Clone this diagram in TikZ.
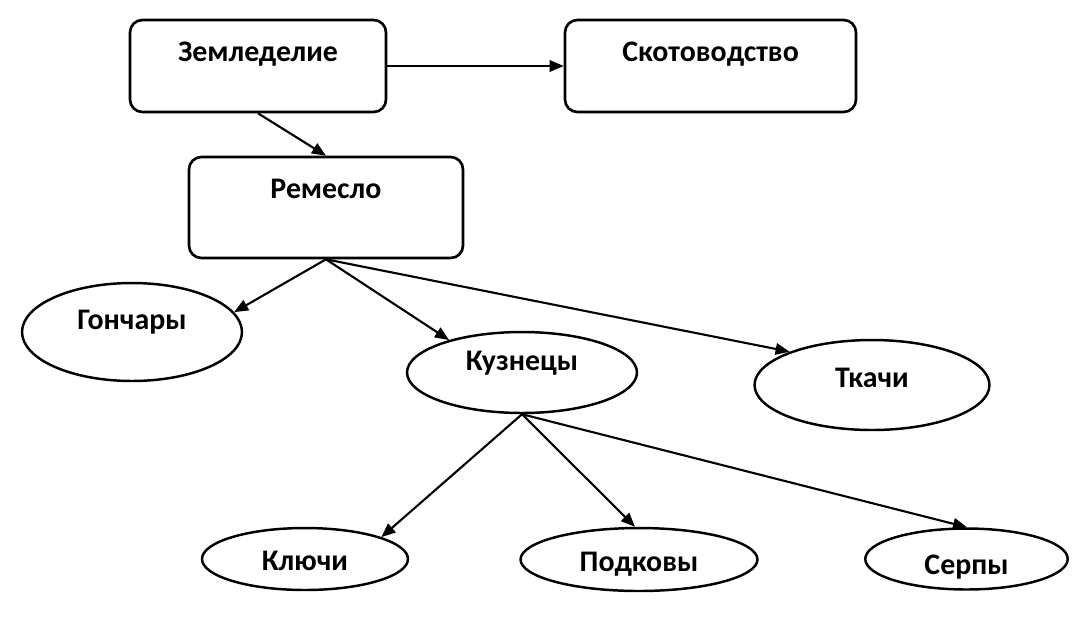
\documentclass[tikz,border=0pt]{standalone}
\usepackage{fontspec}
\setmainfont{Carlito}
\usetikzlibrary{arrows.meta}
\usetikzlibrary{shapes.geometric}
\usetikzlibrary{positioning}

\begin{document}
\begin{tikzpicture}[x=0.02cm, y=-0.02cm,
		box/.style={draw, rounded corners=7pt, line width=1.5pt, inner sep=0pt, font=\fontsize{17}{20}\selectfont\bfseries, text height=0.82cm},
		oval/.style={draw, ellipse, line width=1.4pt, inner sep=0pt, font=\fontsize{17}{20}\selectfont\bfseries, text height=0.38cm},
		link/.style={line width=1.2pt, -{Triangle[length=8pt, width=6.5pt]}}]
	\useasboundingbox (0,0) rectangle (1088,633);
	
	% top row
	\node[box, minimum width=5.12cm, minimum height=1.84cm, text depth=1.02cm] (zeml) at (258,66) {Земледелие};
	\node[box, minimum width=5.82cm, minimum height=1.84cm, text depth=1.02cm] (skot) at (710.5,66) {Скотоводство};
	\node[box, minimum width=5.48cm, minimum height=2.02cm, text depth=1.2cm] (rem) at (326,207.5) {Ремесло};
	
	% crafts
	\node[oval, minimum width=4.4cm, minimum height=1.96cm, text depth=0.5cm] (gon) at (132,332) {Гончары};
	\node[oval, minimum width=4.6cm, minimum height=1.62cm, text depth=0.46cm] (kuz) at (522,372.5) {Кузнецы};
	\node[oval, minimum width=4.7cm, minimum height=1.8cm, text depth=0.3cm] (tk) at (872,385) {Ткачи};
	
	% products
	\node[oval, minimum width=4.12cm, minimum height=1.24cm, text height=0.46cm, text depth=0cm] (kl) at (305,559) {Ключи};
	\node[oval, minimum width=4.74cm, minimum height=1.26cm, text height=0.48cm, text depth=0cm] (pod) at (639,559.5) {Подковы};
	\node[oval, minimum width=4.05cm, minimum height=1.22cm, text height=0.6cm, text depth=0cm] (ser) at (966.5,559) {Серпы};
	
	% arrows
	\draw[link] (zeml) -- (skot);
	\draw[link] (zeml.south) -- (rem.north);
	\draw[link] (rem.south) -- (gon.11);
	\draw[link] (rem.south) -- (kuz.156);
	\draw[link] (rem.south) -- (tk.158);
	\draw[link] (kuz.south) -- (kl.16);
	\draw[link] (kuz.south) -- (pod.97);
	\draw[link] (kuz.south) -- (ser.89);
\end{tikzpicture}
\end{document}
